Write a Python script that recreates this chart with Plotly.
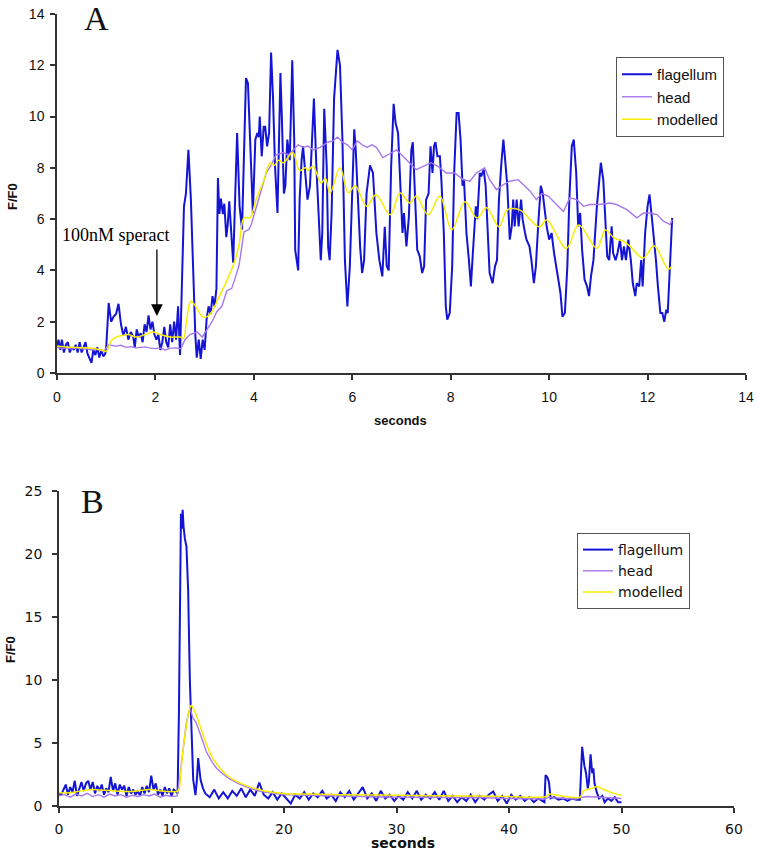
import plotly.graph_objects as go

# ---------------- Panel A data (seconds, F/F0) ----------------
flag_a = [
    (0.0, 1.05), (0.03, 1.3), (0.07, 0.9), (0.1, 1.3), (0.14, 0.8), (0.18, 1.1), (0.22, 1.2), (0.26, 0.8),
    (0.3, 1.0), (0.34, 0.9), (0.38, 1.1), (0.42, 0.8), (0.46, 1.2), (0.5, 0.8), (0.54, 1.0), (0.58, 1.2),
    (0.62, 0.75), (0.66, 0.6), (0.7, 0.4), (0.74, 0.9), (0.78, 0.7), (0.82, 1.0), (0.86, 0.6), (0.9, 0.9),
    (0.94, 0.65), (0.98, 0.75), (1.0, 1.0), (1.05, 2.73), (1.1, 2.0), (1.15, 2.2), (1.2, 2.3), (1.25, 2.7),
    (1.3, 1.9), (1.35, 1.45), (1.4, 1.8), (1.45, 1.3), (1.5, 1.6), (1.55, 1.4), (1.58, 1.0), (1.62, 1.7),
    (1.66, 1.4), (1.7, 1.55), (1.74, 1.2), (1.78, 1.9), (1.82, 1.6), (1.86, 2.25), (1.9, 1.7), (1.94, 2.0),
    (1.98, 1.5), (2.02, 1.3), (2.06, 1.5), (2.1, 0.9), (2.14, 1.2), (2.18, 1.8), (2.22, 1.2), (2.26, 1.0),
    (2.3, 1.9), (2.34, 1.2), (2.38, 2.0), (2.42, 1.3), (2.46, 2.6), (2.5, 0.7), (2.54, 3.4), (2.58, 6.5),
    (2.62, 7.0), (2.67, 8.7), (2.72, 6.8), (2.77, 3.5), (2.81, 1.5), (2.84, 0.6), (2.88, 1.3), (2.92, 0.55),
    (2.96, 1.3), (3.0, 0.9), (3.04, 2.1), (3.08, 2.6), (3.12, 2.3), (3.16, 3.0), (3.2, 2.6), (3.24, 3.3),
    (3.27, 7.6), (3.3, 6.2), (3.33, 6.8), (3.37, 6.2), (3.4, 6.6), (3.44, 5.3), (3.47, 5.8), (3.5, 6.7),
    (3.54, 5.5), (3.58, 4.3), (3.66, 9.36), (3.71, 6.5), (3.76, 5.6), (3.84, 11.5), (3.88, 11.3), (3.95, 7.3),
    (3.98, 6.24), (4.03, 9.1), (4.07, 9.36), (4.1, 9.2), (4.12, 10.0), (4.16, 8.45), (4.2, 9.6), (4.23, 9.6),
    (4.27, 8.84), (4.31, 9.36), (4.35, 12.5), (4.39, 10.7), (4.43, 8.06), (4.48, 6.24), (4.51, 9.5), (4.54, 11.7),
    (4.57, 9.9), (4.61, 7.0), (4.64, 7.3), (4.68, 9.1), (4.73, 8.3), (4.78, 12.2), (4.82, 9.1), (4.84, 4.8),
    (4.9, 4.0), (4.93, 6.76), (4.97, 8.3), (5.0, 8.84), (5.05, 7.67), (5.09, 6.76), (5.14, 7.3), (5.18, 9.0),
    (5.22, 10.7), (5.27, 8.06), (5.32, 6.0), (5.36, 4.4), (5.39, 5.46), (5.43, 10.3), (5.48, 8.06), (5.51, 4.9),
    (5.54, 4.4), (5.58, 6.24), (5.63, 10.7), (5.7, 12.6), (5.75, 12.0), (5.8, 9.1), (5.85, 4.4), (5.9, 2.6),
    (5.95, 4.16), (6.0, 7.3), (6.04, 9.5), (6.07, 8.7), (6.11, 6.76), (6.16, 4.9), (6.2, 3.9), (6.24, 4.4),
    (6.29, 7.0), (6.36, 8.1), (6.42, 7.8), (6.49, 5.46), (6.55, 4.4), (6.61, 3.77), (6.66, 5.7), (6.7, 4.16),
    (6.74, 4.0), (6.79, 8.06), (6.84, 10.5), (6.88, 9.75), (6.93, 9.36), (6.97, 7.67), (7.02, 5.46), (7.05, 6.24),
    (7.1, 4.94), (7.15, 6.1), (7.2, 8.7), (7.23, 9.0), (7.28, 7.0), (7.32, 4.8), (7.37, 4.55), (7.42, 3.9),
    (7.46, 4.16), (7.5, 6.76), (7.55, 7.0), (7.59, 8.84), (7.63, 7.8), (7.66, 8.84), (7.69, 9.0), (7.73, 8.45),
    (7.78, 8.45), (7.81, 7.54), (7.86, 5.46), (7.9, 2.6), (7.93, 2.08), (7.98, 2.34), (8.03, 4.16), (8.07, 7.8),
    (8.12, 10.14), (8.16, 10.14), (8.2, 9.1), (8.24, 7.3), (8.27, 7.54), (8.32, 5.46), (8.37, 4.4), (8.41, 3.38),
    (8.45, 4.68), (8.51, 6.5), (8.54, 6.0), (8.59, 7.8), (8.62, 7.67), (8.67, 7.93), (8.71, 7.3), (8.76, 5.2),
    (8.79, 3.9), (8.85, 3.5), (8.9, 4.16), (8.94, 4.4), (8.98, 6.76), (9.03, 8.2), (9.07, 9.1), (9.1, 8.45),
    (9.15, 7.3), (9.2, 5.2), (9.24, 5.72), (9.27, 6.76), (9.3, 5.72), (9.34, 6.76), (9.38, 5.72), (9.43, 6.76),
    (9.46, 6.0), (9.51, 5.46), (9.54, 5.2), (9.6, 4.94), (9.64, 4.4), (9.69, 3.5), (9.73, 4.16), (9.78, 5.85),
    (9.83, 7.3), (9.87, 7.0), (9.91, 6.24), (9.95, 5.72), (10.0, 5.2), (10.05, 5.46), (10.1, 4.68), (10.14, 4.16),
    (10.19, 3.64), (10.23, 3.12), (10.27, 2.2), (10.32, 2.34), (10.37, 4.16), (10.41, 6.76), (10.46, 8.84), (10.5, 9.1),
    (10.55, 7.8), (10.59, 5.72), (10.63, 6.24), (10.67, 4.8), (10.72, 3.64), (10.77, 3.38), (10.81, 3.0), (10.85, 3.77),
    (10.9, 4.4), (10.97, 6.5), (11.02, 7.54), (11.05, 8.2), (11.1, 7.54), (11.14, 5.72), (11.18, 4.55), (11.22, 4.4),
    (11.27, 5.72), (11.3, 4.68), (11.35, 4.4), (11.39, 4.68), (11.44, 5.2), (11.48, 4.4), (11.52, 4.94), (11.56, 4.4),
    (11.61, 5.2), (11.66, 4.4), (11.7, 3.5), (11.75, 3.0), (11.78, 3.5), (11.83, 3.38), (11.87, 4.4), (11.9, 3.38),
    (11.95, 5.46), (12.0, 6.5), (12.04, 6.96), (12.09, 6.0), (12.12, 5.46), (12.17, 4.4), (12.21, 3.38), (12.26, 2.34),
    (12.3, 2.34), (12.34, 2.0), (12.38, 2.47), (12.41, 2.34), (12.46, 4.4), (12.5, 6.05),
]

head_a = [
    (0.0, 1.0), (0.1, 0.95), (0.2, 0.98), (0.3, 0.93), (0.4, 0.98), (0.5, 0.94), (0.6, 0.95), (0.7, 0.9),
    (0.8, 0.92), (0.95, 0.85), (1.05, 1.1), (1.2, 1.05), (1.3, 1.08), (1.4, 1.0), (1.5, 1.03), (1.6, 0.98),
    (1.7, 1.0), (1.8, 1.02), (1.9, 0.97), (2.0, 0.95), (2.1, 0.98), (2.2, 0.9), (2.3, 0.96), (2.4, 0.98),
    (2.52, 0.95), (2.6, 1.3), (2.7, 1.5), (2.85, 1.6), (2.95, 1.4), (3.05, 1.7), (3.15, 2.0), (3.25, 2.4),
    (3.35, 2.6), (3.45, 3.2), (3.55, 3.3), (3.62, 3.7), (3.7, 4.2), (3.8, 5.5), (3.9, 5.6), (3.95, 5.8),
    (4.1, 6.8), (4.25, 7.8), (4.35, 8.1), (4.45, 8.5), (4.6, 8.6), (4.7, 8.5), (4.8, 8.7), (4.9, 8.9),
    (5.0, 8.8), (5.1, 8.85), (5.2, 8.7), (5.35, 8.8), (5.5, 9.0), (5.6, 9.05), (5.7, 9.2), (5.8, 9.0),
    (5.9, 8.9), (6.0, 8.7), (6.1, 9.05), (6.2, 8.9), (6.3, 8.8), (6.4, 8.9), (6.49, 8.8), (6.62, 8.4),
    (6.76, 8.55), (6.9, 8.7), (7.03, 8.45), (7.16, 8.2), (7.3, 7.93), (7.44, 8.06), (7.6, 8.2), (7.74, 8.06),
    (7.91, 7.8), (8.08, 7.8), (8.25, 7.54), (8.39, 7.48), (8.52, 7.8), (8.69, 8.0), (8.79, 7.54), (8.93, 7.15),
    (9.07, 7.35), (9.2, 7.48), (9.37, 7.54), (9.51, 7.28), (9.61, 7.1), (9.74, 6.76), (9.85, 7.0), (9.98, 6.9),
    (10.12, 6.63), (10.29, 6.3), (10.42, 6.83), (10.56, 6.76), (10.7, 6.5), (10.83, 6.57), (11.03, 6.57), (11.24, 6.63),
    (11.37, 6.57), (11.58, 6.37), (11.78, 6.05), (11.92, 6.24), (12.05, 6.24), (12.19, 6.18), (12.32, 5.92), (12.46, 5.79),
    (12.5, 5.98),
]

model_a = [
    (0.0, 1.04), (0.3, 1.0), (0.6, 0.98), (0.9, 0.9), (1.0, 0.85), (1.1, 1.25), (1.2, 1.4), (1.3, 1.45),
    (1.45, 1.5), (1.6, 1.4), (1.8, 1.5), (1.95, 1.6), (2.1, 1.5), (2.3, 1.4), (2.5, 1.4), (2.57, 1.35),
    (2.63, 2.0), (2.72, 2.8), (2.85, 2.5), (2.95, 2.2), (3.05, 2.2), (3.15, 2.4), (3.3, 3.0), (3.45, 3.6),
    (3.6, 4.3), (3.7, 5.0), (3.8, 6.05), (3.92, 6.05), (4.05, 6.8), (4.2, 7.5), (4.33, 8.19), (4.42, 8.1),
    (4.5, 8.3), (4.6, 8.2), (4.79, 8.6), (4.93, 7.9), (5.05, 8.0), (5.1, 7.9), (5.2, 8.06), (5.37, 7.4),
    (5.45, 7.6), (5.55, 7.03), (5.75, 8.0), (5.92, 7.03), (6.06, 7.3), (6.29, 6.5), (6.48, 6.95), (6.77, 6.17),
    (6.97, 7.02), (7.17, 6.63), (7.3, 6.9), (7.54, 6.17), (7.78, 6.89), (8.02, 5.58), (8.29, 6.68), (8.53, 6.05),
    (8.73, 6.44), (8.98, 5.7), (9.15, 6.36), (9.4, 6.36), (9.8, 5.7), (9.95, 5.97), (10.35, 4.86), (10.6, 5.77),
    (10.97, 4.86), (11.14, 5.58), (11.3, 5.3), (11.4, 5.2), (11.5, 5.15), (11.65, 4.93), (11.91, 4.48), (12.13, 4.96),
    (12.42, 4.05), (12.5, 4.2),
]

# ---------------- Panel B data (seconds, F/F0) ----------------
flag_b = [
    (0.0, 1.0), (0.2, 0.9), (0.4, 1.3), (0.6, 1.7), (0.8, 0.9), (1.0, 1.5), (1.2, 1.1), (1.4, 2.0),
    (1.6, 0.8), (1.8, 1.4), (2.0, 1.9), (2.2, 1.2), (2.4, 1.8), (2.6, 2.0), (2.8, 1.3), (3.0, 1.9),
    (3.2, 1.0), (3.4, 1.6), (3.6, 1.2), (3.8, 1.7), (4.0, 0.9), (4.2, 1.4), (4.4, 1.1), (4.6, 2.3),
    (4.8, 1.2), (5.0, 1.8), (5.2, 0.9), (5.4, 1.7), (5.6, 1.3), (5.8, 1.6), (6.0, 0.8), (6.2, 1.5),
    (6.4, 1.0), (6.6, 1.3), (6.8, 0.9), (7.0, 1.2), (7.2, 0.8), (7.4, 1.5), (7.6, 1.0), (7.8, 1.6),
    (8.0, 1.1), (8.2, 2.4), (8.4, 1.3), (8.6, 1.8), (8.8, 0.9), (9.0, 1.3), (9.2, 0.8), (9.4, 1.5),
    (9.6, 1.0), (9.8, 1.4), (10.0, 0.8), (10.2, 1.3), (10.4, 1.1), (10.54, 1.0), (10.66, 7.4), (10.75, 18.0),
    (10.84, 23.2), (10.92, 22.0), (10.99, 23.5), (11.07, 22.2), (11.19, 21.2), (11.33, 20.6), (11.48, 17.1), (11.63, 10.0),
    (11.72, 7.4), (11.78, 4.7), (11.93, 2.1), (12.13, 0.87), (12.25, 2.0), (12.37, 3.8), (12.58, 2.1), (12.8, 1.4),
    (13.0, 1.0), (13.4, 0.7), (13.8, 1.3), (14.2, 0.6), (14.6, 1.1), (15.0, 0.6), (15.4, 1.2), (15.8, 0.8),
    (16.2, 1.4), (16.6, 0.7), (17.0, 1.3), (17.4, 0.8), (17.8, 1.85), (18.2, 0.9), (18.6, 0.6), (19.0, 1.1),
    (19.4, 0.5), (19.8, 1.0), (20.2, 0.6), (20.6, 0.2), (21.0, 0.9), (21.4, 0.6), (21.8, 1.1), (22.2, 0.5),
    (22.6, 1.0), (23.0, 0.7), (23.4, 1.2), (23.8, 0.6), (24.2, 0.9), (24.6, 0.4), (25.0, 1.1), (25.4, 0.7),
    (25.8, 1.2), (26.2, 0.5), (26.6, 1.0), (27.0, 1.5), (27.4, 0.6), (27.8, 1.0), (28.2, 0.4), (28.6, 1.2),
    (29.0, 0.6), (29.4, 0.9), (29.8, 0.4), (30.2, 0.8), (30.6, 0.5), (31.0, 1.1), (31.4, 0.6), (31.8, 1.2),
    (32.2, 0.5), (32.6, 0.9), (33.0, 0.6), (33.4, 1.1), (33.8, 0.5), (34.2, 1.2), (34.6, 0.4), (35.0, 0.8),
    (35.4, 0.3), (35.8, 0.7), (36.2, 0.4), (36.6, 0.9), (37.0, 0.3), (37.4, 0.8), (37.8, 0.5), (38.2, 0.9),
    (38.6, 1.15), (39.0, 0.4), (39.4, 0.8), (39.8, 0.2), (40.2, 0.9), (40.6, 0.5), (41.0, 0.8), (41.4, 0.4),
    (41.8, 0.7), (42.2, 0.3), (42.6, 0.6), (43.0, 0.4), (43.15, 0.3), (43.25, 2.45), (43.4, 2.3), (43.55, 1.9),
    (43.7, 0.6), (44.0, 0.7), (44.4, 0.5), (44.8, 0.6), (45.2, 0.4), (45.6, 0.6), (46.0, 0.5), (46.3, 0.5),
    (46.5, 4.7), (46.7, 3.2), (46.85, 2.6), (47.0, 1.4), (47.1, 1.9), (47.25, 4.1), (47.4, 2.6), (47.5, 3.0),
    (47.6, 1.8), (47.8, 1.1), (48.0, 0.6), (48.3, 0.8), (48.5, 0.3), (48.8, 0.6), (49.1, 0.4), (49.4, 0.7),
    (49.7, 0.3), (50.0, 0.3),
]

head_b = [
    (0.0, 0.8), (0.5, 0.9), (1.0, 0.7), (1.5, 0.95), (2.0, 0.8), (2.5, 1.0), (3.0, 0.75), (3.5, 0.9),
    (4.0, 0.7), (4.5, 0.95), (5.0, 0.8), (5.5, 0.9), (6.0, 0.7), (6.5, 0.85), (7.0, 0.75), (7.5, 0.9),
    (8.0, 0.8), (8.5, 0.95), (9.0, 0.7), (9.5, 0.85), (10.0, 0.75), (10.5, 0.8), (10.7, 2.0), (11.0, 4.5),
    (11.3, 6.5), (11.55, 7.5), (11.7, 7.6), (11.9, 7.0), (12.2, 6.6), (12.6, 5.6), (13.1, 4.3), (13.6, 3.5),
    (14.0, 3.0), (14.5, 2.6), (15.0, 2.25), (15.5, 2.0), (16.0, 1.75), (17.0, 1.4), (18.0, 1.15), (19.0, 1.0),
    (20.0, 0.9), (22.0, 0.85), (24.0, 0.8), (26.0, 0.75), (28.0, 0.75), (30.0, 0.7), (32.0, 0.7), (34.0, 0.7),
    (36.0, 0.65), (38.0, 0.65), (40.0, 0.6), (42.0, 0.6), (43.2, 0.55), (43.5, 0.7), (44.0, 0.65), (46.0, 0.55),
    (46.5, 0.7), (47.0, 0.75), (48.0, 0.7), (49.0, 0.65), (50.0, 0.6),
]

model_b = [
    (0.0, 1.05), (1.0, 1.05), (2.0, 1.2), (3.0, 1.3), (4.0, 1.25), (5.0, 1.2), (6.0, 1.15), (7.0, 1.2),
    (8.0, 1.3), (9.0, 1.2), (10.0, 1.15), (10.6, 1.2), (10.8, 2.5), (11.1, 5.0), (11.4, 6.8), (11.6, 7.7),
    (11.75, 8.0), (11.9, 7.8), (12.2, 7.2), (12.6, 6.2), (13.1, 4.9), (13.6, 3.9), (14.0, 3.35), (14.5, 2.8),
    (15.0, 2.4), (15.5, 2.1), (16.0, 1.85), (17.0, 1.5), (18.0, 1.25), (19.0, 1.1), (20.0, 1.0), (22.0, 0.95),
    (25.0, 0.9), (30.0, 0.85), (35.0, 0.8), (40.0, 0.75), (42.5, 0.7), (43.3, 0.75), (43.6, 0.95), (44.0, 0.9),
    (45.0, 0.75), (46.3, 0.7), (46.6, 1.2), (47.0, 1.3), (47.5, 1.45), (47.8, 1.55), (48.2, 1.4), (49.0, 1.1),
    (50.0, 0.85),
]

series_names = ["flagellum", "head", "modelled"]
colors = ["#1414D4", "#A777EE", "#F7EC00"]
widths = [2.0, 1.4, 1.5]

W, H = 758, 853
fig = go.Figure()


def add(data, i, xa, ya, legend, shape="linear"):
    xs = [p[0] for p in data]
    ys = [p[1] for p in data]
    fig.add_trace(go.Scatter(
        x=xs, y=ys, mode="lines", name=series_names[i],
        line=dict(color=colors[i], width=widths[i], shape=shape),
        xaxis=xa, yaxis=ya, legend=legend, hoverinfo="skip"))


add(flag_a, 0, "x", "y", "legend")
add(head_a, 1, "x", "y", "legend")
add(model_a, 2, "x", "y", "legend", "spline")
add(flag_b, 0, "x2", "y2", "legend2")
add(head_b, 1, "x2", "y2", "legend2")
add(model_b, 2, "x2", "y2", "legend2", "spline")

SANS = "Liberation Sans, Arial"
WIDE = "DejaVu Sans, Verdana"


def axis(font_family, standoff, **kw):
    d = dict(showline=True, linecolor="#333", linewidth=1.5, ticks="outside",
             ticklen=5, tickwidth=1.5, tickcolor="#333", showgrid=False, zeroline=False,
             ticklabelstandoff=standoff,
             tickfont=dict(family=font_family, size=14, color="#111"))
    d.update(kw)
    return d


fig.update_layout(
    width=W, height=H, margin=dict(l=0, r=0, t=0, b=0, autoexpand=False),
    paper_bgcolor="white", plot_bgcolor="white", showlegend=True,
    xaxis=axis(SANS, 5, domain=[57 / W, 746 / W], range=[0, 14], dtick=2, anchor="y"),
    yaxis=axis(SANS, 3, domain=[(H - 373) / H, (H - 14) / H], range=[0, 14], dtick=2, anchor="x"),
    xaxis2=axis(WIDE, 4, domain=[59 / W, 734 / W], range=[0, 60], dtick=10, anchor="y2"),
    yaxis2=axis(WIDE, 7, domain=[(H - 806) / H, (H - 491) / H], range=[0, 25], dtick=5, anchor="x2"),
    legend=dict(x=616 / W, y=1 - 57 / H, xanchor="left", yanchor="top", bgcolor="white",
                bordercolor="#555", borderwidth=1, itemwidth=30,
                font=dict(family=SANS, size=15, color="#111"), tracegroupgap=0),
    legend2=dict(x=577 / W, y=1 - 533 / H, xanchor="left", yanchor="top", bgcolor="white",
                 bordercolor="#555", borderwidth=1,
                 font=dict(family=WIDE, size=14, color="#111"), tracegroupgap=0),
)


def label(text, px, py, family, size, angle=0):
    return dict(text=text, x=px / W, y=1 - py / H, xref="paper", yref="paper", showarrow=False,
                xanchor="center", yanchor="middle", textangle=angle,
                font=dict(family=family, size=size, color="#111"))


ann = [
    label("A", 96, 18, "Liberation Serif", 34),
    label("B", 92, 501, "Liberation Serif", 34),
    label("<b>seconds</b>", 400, 421, SANS, 13),
    label("<b>seconds</b>", 403, 843, WIDE, 14),
    label("<b>F/F0</b>", 12, 197, SANS, 13, -90),
    label("<b>F/F0</b>", 10, 650, SANS, 13, -90),
    dict(text="100nM speract", x=0.06, y=5.38, xref="x", yref="y", xanchor="left", yanchor="middle",
         showarrow=False, font=dict(family="Liberation Serif", size=18, color="black")),
    dict(text="", x=2.03, y=2.22, xref="x", yref="y", ax=2.03, ay=4.87, axref="x", ayref="y",
         showarrow=True, arrowhead=2, arrowsize=1.8, arrowwidth=1.3, arrowcolor="black", standoff=0),
]
fig.update_layout(annotations=ann)

fig.write_html("out.html", config={"displayModeBar": False},
               post_script="document.body.style.margin='0px';")
